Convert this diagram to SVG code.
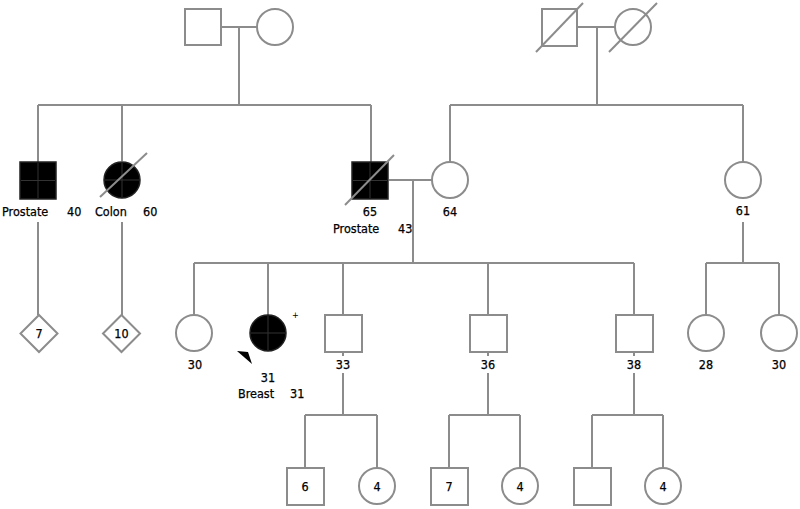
<svg xmlns="http://www.w3.org/2000/svg" width="800" height="509" viewBox="0 0 800 509">
<style>
.ln{stroke:#8c8c8c;stroke-width:2;fill:none}
.sym{stroke:#8c8c8c;stroke-width:2;fill:#fff}
.aff{stroke:#222;stroke-width:1.5;fill:#000}
.cr{stroke:#333;stroke-width:1;fill:none}
.sl{stroke:#8c8c8c;stroke-width:2;fill:none}
text{font-family:"DejaVu Sans Condensed","DejaVu Sans",Verdana,sans-serif;font-stretch:condensed;font-size:12.5px;fill:#000;stroke:#000;stroke-width:0.25}
.c{text-anchor:middle}
</style>
<rect width="800" height="509" fill="#fff"/>
<g id="connectors">
<path class="ln" d="M221 27H257 M239 27V105 M38 105H371 M38 105V162 M122 105V161 M371 105V162"/>
<path class="ln" d="M577 27H615 M597 27V105 M450 105H743 M450 105V161 M743 105V161"/>
<path class="ln" d="M389 180H432 M413 180V263 M194 263H634 M194 263V315 M268 263V315 M343 263V315 M488 263V315 M634 263V315"/>
<path class="ln" d="M743 222V263 M706 263H779 M706 263V315 M779 263V315"/>
<path class="ln" d="M38 222V315 M122 222V315"/>
<path class="ln" d="M343 352V356 M343 373V415 M305 415H377 M305 415V468 M377 415V468"/>
<path class="ln" d="M488 352V356 M488 373V415 M449 415H520 M449 415V468 M520 415V468"/>
<path class="ln" d="M634 352V356 M634 373V415 M592 415H663 M592 415V468 M663 415V468"/>
</g>
<g id="gf1"><rect class="sym" x="185" y="9" width="36" height="36"/></g>
<g id="gm1"><circle class="sym" cx="275" cy="27" r="18"/></g>
<g id="gf2"><rect class="sym" x="542" y="9" width="35" height="37"/><line class="sl" x1="536" y1="52" x2="583" y2="3"/></g>
<g id="gm2"><circle class="sym" cx="633" cy="27" r="18"/><line class="sl" x1="609" y1="52" x2="657" y2="3"/></g>
<g id="uncle"><rect class="aff" x="20" y="162" width="36" height="37"/><path class="cr" d="M38 163V198 M21 180.5H55"/><text x="2" y="216">Prostate</text><text x="67" y="216">40</text></g>
<g id="aunt"><circle class="aff" cx="122" cy="180" r="18"/><path class="cr" d="M122 163V197 M105 180H139"/><line class="sl" x1="100" y1="197" x2="147" y2="153"/><text x="95" y="216">Colon</text><text x="143" y="216">60</text></g>
<g id="father"><rect class="aff" x="352" y="162" width="36" height="37"/><path class="cr" d="M370 163V198 M353 180.5H387"/><line class="sl" x1="345" y1="205" x2="394" y2="155"/><text class="c" x="370" y="216">65</text><text x="333" y="233">Prostate</text><text x="398" y="233">43</text></g>
<g id="mother"><circle class="sym" cx="450" cy="180" r="18"/><text class="c" x="450" y="216">64</text></g>
<g id="maunt"><circle class="sym" cx="743" cy="180" r="18"/><text class="c" x="743" y="215">61</text></g>
<g id="d7"><polygon class="sym" points="39,315 57.5,333.5 39,352 20.5,333.5"/><text class="c" x="39" y="338">7</text></g>
<g id="d10"><polygon class="sym" points="121.5,315 140,333.5 121.5,352 103,333.5"/><text class="c" x="121.5" y="338">10</text></g>
<g id="sis"><circle class="sym" cx="194" cy="333" r="18"/><text class="c" x="195" y="369">30</text></g>
<g id="proband"><circle class="aff" cx="268" cy="333" r="18"/><path class="cr" d="M268 316V350 M251 333H285"/><text x="292" y="318" style="font-size:9px;stroke-width:0">+</text><polygon points="237,351 248,352 252,364" fill="#000"/><text class="c" x="268" y="382">31</text><text x="238" y="398">Breast</text><text x="290" y="398">31</text></g>
<g id="b33"><rect class="sym" x="325" y="315" width="37" height="37"/><text class="c" x="343" y="369">33</text></g>
<g id="b36"><rect class="sym" x="470" y="315" width="37" height="37"/><text class="c" x="488" y="369">36</text></g>
<g id="b38"><rect class="sym" x="616" y="315" width="37" height="37"/><text class="c" x="634" y="369">38</text></g>
<g id="c28"><circle class="sym" cx="706" cy="333" r="18"/><text class="c" x="706" y="369">28</text></g>
<g id="c30"><circle class="sym" cx="779" cy="333" r="18"/><text class="c" x="779" y="369">30</text></g>
<g id="k1"><rect class="sym" x="287" y="468" width="37" height="37"/><text class="c" x="305" y="491">6</text></g>
<g id="k2"><circle class="sym" cx="377" cy="486" r="18"/><text class="c" x="377" y="491">4</text></g>
<g id="k3"><rect class="sym" x="431" y="468" width="37" height="37"/><text class="c" x="449" y="491">7</text></g>
<g id="k4"><circle class="sym" cx="520" cy="486" r="18"/><text class="c" x="520" y="491">4</text></g>
<g id="k5"><rect class="sym" x="574" y="468" width="37" height="37"/></g>
<g id="k6"><circle class="sym" cx="663" cy="486" r="18"/><text class="c" x="663" y="491">4</text></g>
</svg>
